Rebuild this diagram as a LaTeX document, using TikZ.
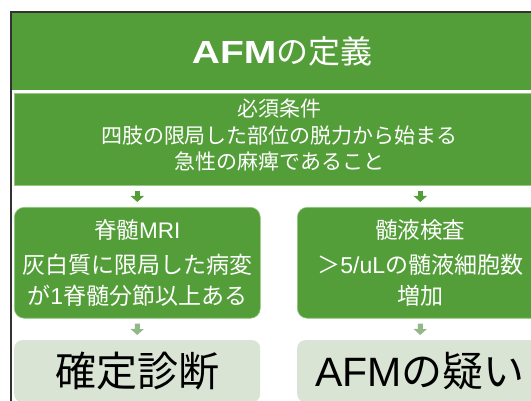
\documentclass[tikz,border=0pt]{standalone}
\usepackage{fontspec}
\setmainfont{Liberation Sans}
\newfontfamily\jp{Noto Sans CJK JP}
\newfontfamily\titlefont{Liberation Sans Bold}[FakeStretch=1.22]
\usetikzlibrary{arrows.meta}
\definecolor{fgreen}{RGB}{84,158,57}
\definecolor{lgreen}{RGB}{218,228,213}
\definecolor{agray}{RGB}{146,184,135}
\definecolor{edgegreen}{RGB}{150,200,130}
\definecolor{framegray}{RGB}{50,50,50}
\newcommand\J[1]{{\jp #1}}
\newcommand\hd{\fontsize{22.5}{25}\selectfont}
\begin{document}
\begin{tikzpicture}[x=1pt,y=-1pt,
  titleband/.style={fill=fgreen, draw=none, anchor=north west, inner sep=0pt, text=white, align=center, minimum width=540pt, minimum height=77pt},
  reqband/.style={fill=fgreen, draw=edgegreen, line width=1pt, anchor=north west, inner sep=0pt, minimum width=531pt, minimum height=92pt},
  reqtext/.style={text=white, align=center, inner sep=0pt, font=\fontsize{21}{26.5}\selectfont},
  gbox/.style={fill=fgreen, draw=edgegreen, line width=0.6pt, rounded corners=10pt, anchor=north west, inner sep=0pt, text=white, align=center, minimum width=246pt, minimum height=111pt, font=\fontsize{23}{31}\selectfont},
  lbox/.style={fill=lgreen, draw=none, rounded corners=8pt, anchor=north west, inner sep=0pt, align=center, minimum width=246pt, minimum height=62pt, font=\fontsize{41}{45}\selectfont},
  garrow/.style={line width=5pt, fgreen, -{Triangle[width=13pt,length=6pt]}, shorten <=5pt, shorten >=5pt},
  larrow/.style={line width=5pt, agray, -{Triangle[width=13pt,length=6pt]}, shorten <=5pt, shorten >=5pt}]
\useasboundingbox (0,0) rectangle (531,401);
% outer frame
\draw[framegray, line width=1.5pt] (11,420) -- (11,12) -- (560,12);
% title band
\node[titleband] (title) at (12,13) {{\titlefont\fontsize{32}{34}\selectfont AFM}{\jp\fontsize{32}{34}\selectfont の定義}};
% requirement band
\node[reqband] (req) at (13.5,93) {};
\node[reqtext] (reqt) at ([yshift=4pt]req.center) {\J{必須条件}\\\J{四肢の限局した部位の脱力から始まる}\\\J{急性の麻痺であること}};
% middle boxes
\node[gbox] (mri) at (14,207) {\hd\J{脊髄}MRI\\[4pt]\J{灰白質に限局した病変}\\\J{が}1\J{脊髄分節以上ある}};
\node[gbox] (csf) at (297,207) {\hd\J{髄液検査}\\[4pt]\J{＞}5/uL\J{の髄液細胞数}\\\J{増加}};
% bottom boxes
\node[lbox] (def) at (14,340) {\J{確定診断}};
\node[lbox] (sus) at (297,340) {AFM\J{の疑い}};
% arrows
\draw[garrow] (req.south -| mri.north) -- (mri.north);
\draw[garrow] (req.south -| csf.north) -- (csf.north);
\draw[larrow] (mri.south) -- (def.north);
\draw[larrow] (csf.south) -- (sus.north);
\end{tikzpicture}
\end{document}
